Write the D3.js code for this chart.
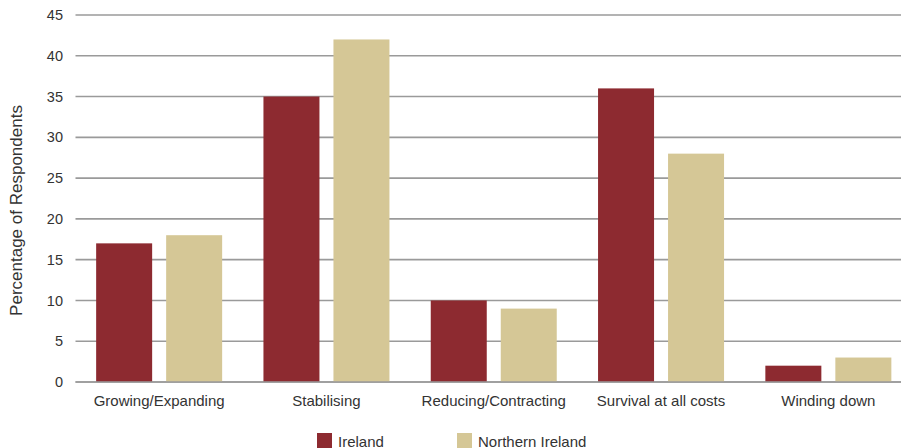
<!DOCTYPE html>
<html>
<head>
<meta charset="utf-8">
<script src="https://cdn.jsdelivr.net/npm/d3@7"></script>
<style>
  body { margin: 0; background: #fff; }
  svg { display: block; font-family: "Liberation Sans", Arial, sans-serif; }
</style>
</head>
<body>
<svg id="chart" width="901" height="448"></svg>
<script>
// Business outlook by region
const categories = ["Growing/Expanding", "Stabilising", "Reducing/Contracting", "Survival at all costs", "Winding down"];
const seriesNames = ["Ireland", "Northern Ireland"];
const ireland = [17, 35, 10, 36, 2];
const northernIreland = [18, 42, 9, 28, 3];
const yTicks = [0, 5, 10, 15, 20, 25, 30, 35, 40, 45];
const colors = ["#8d2a30", "#d5c796"];

const rows = categories.map((c, i) => ({ category: c, values: [ireland[i], northernIreland[i]] }));

const svg = d3.select("#chart");
const plotTop = 15, plotBottom = 382, plotLeft = 75.5, plotRight = 912;

const x = d3.scaleBand().domain(categories).range([plotLeft, plotRight]).paddingInner(0).paddingOuter(0);
const y = d3.scaleLinear().domain([0, 45]).range([plotBottom, plotTop]);

const barW = 56, barGap = 14;
const inner = d3.scaleOrdinal().domain([0, 1]).range([
  x.bandwidth() / 2 - barGap / 2 - barW,
  x.bandwidth() / 2 + barGap / 2
]);

// gridlines
svg.append("g")
  .selectAll("line")
  .data(yTicks)
  .join("line")
  .attr("x1", plotLeft)
  .attr("x2", 901)
  .attr("y1", d => y(d))
  .attr("y2", d => y(d))
  .attr("stroke", "#9a9a9a")
  .attr("stroke-width", 1.6);

// y tick labels
svg.append("g")
  .selectAll("text")
  .data(yTicks)
  .join("text")
  .attr("x", 63)
  .attr("y", d => y(d))
  .attr("dy", "0.35em")
  .attr("text-anchor", "end")
  .attr("font-size", 14.5)
  .attr("fill", "#333")
  .text(d => d);

// y axis title
svg.append("text")
  .attr("transform", "translate(22,210.5) rotate(-90)")
  .attr("text-anchor", "middle")
  .attr("font-size", 17)
  .attr("fill", "#333")
  .text("Percentage of Respondents");

// bars
const groups = svg.append("g")
  .selectAll("g")
  .data(rows)
  .join("g")
  .attr("transform", d => `translate(${x(d.category)},0)`);

groups.selectAll("rect")
  .data(d => d.values.map((v, i) => ({ v, i })))
  .join("rect")
  .attr("x", d => inner(d.i))
  .attr("width", barW)
  .attr("y", d => y(d.v))
  .attr("height", d => y(0) - y(d.v))
  .attr("fill", d => colors[d.i]);

// baseline drawn over the bars
svg.append("line")
  .attr("x1", plotLeft).attr("x2", 901)
  .attr("y1", y(0)).attr("y2", y(0))
  .attr("stroke", "#9a9a9a").attr("stroke-width", 1.6);

// category labels
svg.append("g")
  .selectAll("text")
  .data(categories)
  .join("text")
  .attr("x", d => x(d) + x.bandwidth() / 2)
  .attr("y", 406)
  .attr("text-anchor", "middle")
  .attr("font-size", 15)
  .attr("fill", "#333")
  .text(d => d);

// legend
const legendX = [317, 457];
const legend = svg.append("g")
  .selectAll("g")
  .data(seriesNames)
  .join("g")
  .attr("transform", (d, i) => `translate(${legendX[i]},433)`);
legend.append("rect")
  .attr("width", 15).attr("height", 15)
  .attr("fill", (d, i) => colors[i]);
legend.append("text")
  .attr("x", 21).attr("y", 13.5)
  .attr("font-size", 15)
  .attr("fill", "#333")
  .text(d => d);
</script>
</body>
</html>
